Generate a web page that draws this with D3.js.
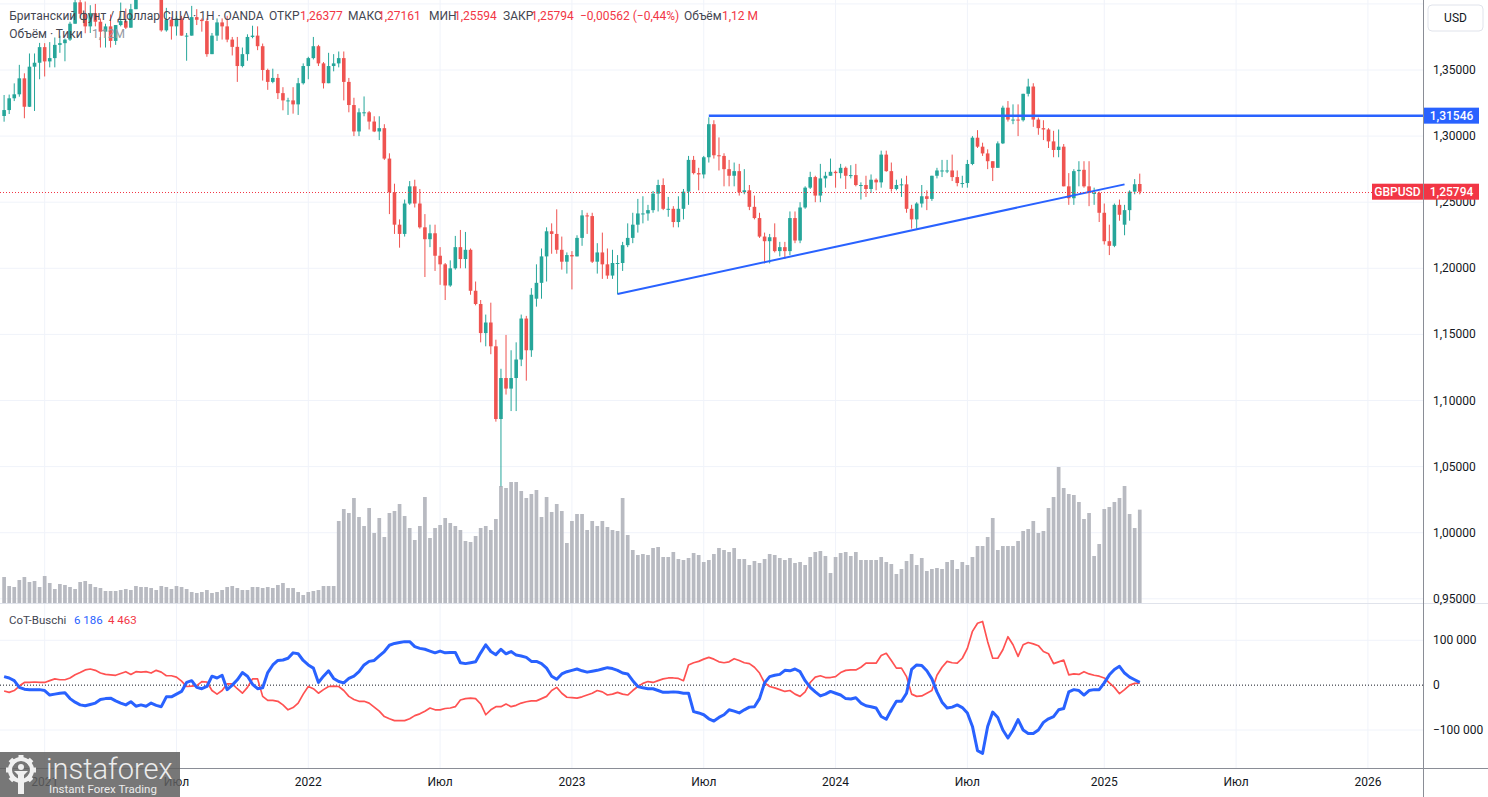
<!DOCTYPE html>
<html><head><meta charset="utf-8">
<script src="https://cdn.jsdelivr.net/npm/d3@7"></script>
<style>
html,body{margin:0;padding:0;background:#fff;overflow:hidden}
svg{display:block;font-family:Roboto,"Noto Sans",sans-serif}
</style></head><body>
<svg id="c" width="1488" height="797"></svg>
<script>
// ---------------- DATA ----------------
const firstWeek = "2020-11-09"; // weekly bars, one per Monday
const openP = [1.3152,1.3197,1.3286,1.3316,1.3437,1.3222,1.3525,1.3555,1.3673,1.3565,
1.3590,1.3690,1.3703,1.3730,1.3850,1.4012,1.3925,1.3830,1.3930,1.3865,
1.3790,1.3830,1.3720,1.3840,1.3870,1.3820,1.3960,1.4100,1.4155,1.4200,
1.4180,1.4110,1.3800,1.3880,1.3830,1.3890,1.3760,1.3760,1.3900,1.3880,
1.3870,1.3620,1.3760,1.3860,1.3830,1.3730,1.3675,1.3530,1.3620,1.3750,
1.3760,1.3680,1.3500,1.3410,1.3440,1.3325,1.3270,1.3270,1.3240,1.3400,
1.3530,1.3590,1.3680,1.3550,1.3400,1.3530,1.3550,1.3590,1.3410,1.3235,
1.3035,1.3180,1.3180,1.3110,1.3035,1.3060,1.2830,1.2575,1.2330,1.2260,
1.2490,1.2620,1.2490,1.2310,1.2220,1.2265,1.2095,1.2030,1.1870,1.2000,
1.2160,1.2070,1.2140,1.1830,1.1730,1.1510,1.1590,1.1410,1.0860,1.1170,
1.1090,1.1170,1.1310,1.1620,1.1380,1.1770,1.1890,1.2090,1.2280,1.2260,
1.2140,1.2050,1.2100,1.2090,1.2230,1.2400,1.2395,1.2050,1.2120,1.2030,
1.1945,1.2040,1.2040,1.2175,1.2230,1.2330,1.2415,1.2415,1.2440,1.2565,
1.2630,1.2450,1.2450,1.2350,1.2450,1.2580,1.2820,1.2720,1.2710,1.2840,
1.3090,1.2855,1.2850,1.2750,1.2700,1.2735,1.2575,1.2590,1.2465,1.2380,
1.2240,1.2205,1.2235,1.2130,1.2160,1.2130,1.2380,1.2210,1.2460,1.2610,
1.2690,1.2550,1.2680,1.2700,1.2730,1.2720,1.2760,1.2700,1.2705,1.2630,
1.2630,1.2600,1.2670,1.2650,1.2860,1.2735,1.2600,1.2630,1.2635,1.2450,
1.2370,1.2490,1.2545,1.2525,1.2700,1.2740,1.2740,1.2740,1.2690,1.2645,
1.2645,1.2789,1.2988,1.2920,1.2869,1.2810,1.2760,1.2945,1.3215,1.3125,
1.3125,1.3120,1.3320,1.3375,1.3125,1.3060,1.3050,1.2960,1.2895,1.2920,
1.2620,1.2530,1.2735,1.2745,1.2620,1.2570,1.2570,1.2420,1.2205,1.2170,
1.2480,1.2330,1.2440,1.2580,1.26377];
const highP = [1.3311,1.3314,1.3399,1.3539,1.3475,1.3625,1.3625,1.3705,1.3703,1.3711,
1.3746,1.3759,1.3738,1.3865,1.4035,1.4240,1.4018,1.3990,1.4000,1.3890,
1.3850,1.3920,1.3840,1.4010,1.3965,1.4000,1.4165,1.4234,1.4220,1.4250,
1.4200,1.4170,1.3970,1.3900,1.3910,1.3910,1.3780,1.3985,1.3960,1.3890,
1.3890,1.3780,1.3890,1.3890,1.3910,1.3750,1.3750,1.3670,1.3770,1.3835,
1.3830,1.3700,1.3510,1.3510,1.3470,1.3370,1.3290,1.3370,1.3440,1.3550,
1.3600,1.3750,1.3690,1.3560,1.3630,1.3620,1.3640,1.3640,1.3440,1.3290,
1.3210,1.3300,1.3190,1.3150,1.3150,1.3090,1.2870,1.2640,1.2370,1.2520,
1.2660,1.2670,1.2600,1.2410,1.2330,1.2330,1.2160,1.2040,1.2060,1.2245,
1.2290,1.2275,1.2150,1.1900,1.1760,1.1650,1.1740,1.1460,1.1240,1.1496,
1.1380,1.1440,1.1650,1.1640,1.1850,1.2030,1.2150,1.2310,1.2340,1.2446,
1.2240,1.2120,1.2130,1.2250,1.2440,1.2420,1.2420,1.2190,1.2270,1.2150,
1.2140,1.2100,1.2200,1.2340,1.2420,1.2525,1.2545,1.2480,1.2585,1.2670,
1.2680,1.2540,1.2470,1.2545,1.2600,1.2850,1.2850,1.2760,1.2850,1.3142,
1.3120,1.2990,1.2870,1.2820,1.2800,1.2790,1.2750,1.2630,1.2550,1.2420,
1.2270,1.2260,1.2340,1.2200,1.2200,1.2430,1.2430,1.2500,1.2620,1.2730,
1.2700,1.2790,1.2730,1.2830,1.2740,1.2790,1.2770,1.2780,1.2790,1.2650,
1.2700,1.2710,1.2680,1.2890,1.2890,1.2800,1.2670,1.2680,1.2700,1.2480,
1.2500,1.2630,1.2590,1.2700,1.2760,1.2820,1.2820,1.2860,1.2740,1.2700,
1.2820,1.3000,1.3045,1.2950,1.2900,1.2810,1.2960,1.3230,1.3265,1.3240,
1.3240,1.3320,1.3434,1.3400,1.3140,1.3120,1.3060,1.3040,1.3050,1.2940,
1.2720,1.2750,1.2810,1.2810,1.2810,1.2610,1.2580,1.2490,1.2330,1.2490,
1.2520,1.2480,1.2590,1.2675,1.27161];
const lowP = [1.3109,1.3167,1.3265,1.3298,1.3135,1.3220,1.3190,1.3430,1.3451,1.3520,
1.3520,1.3630,1.3566,1.3720,1.3850,1.3890,1.3778,1.3780,1.3830,1.3670,
1.3670,1.3670,1.3690,1.3830,1.3810,1.3820,1.3960,1.4080,1.4100,1.4080,
1.4080,1.3790,1.3790,1.3730,1.3760,1.3760,1.3570,1.3760,1.3840,1.3790,
1.3600,1.3620,1.3720,1.3730,1.3710,1.3610,1.3410,1.3520,1.3570,1.3740,
1.3650,1.3420,1.3350,1.3400,1.3280,1.3195,1.3160,1.3170,1.3160,1.3390,
1.3430,1.3580,1.3530,1.3360,1.3400,1.3490,1.3520,1.3270,1.3180,1.3000,
1.3000,1.3150,1.3050,1.3030,1.2970,1.2820,1.2410,1.2260,1.2156,1.2240,
1.2480,1.2460,1.2300,1.1934,1.2160,1.1980,1.1875,1.1760,1.1860,1.1990,
1.2000,1.2000,1.1800,1.1720,1.1440,1.1410,1.1350,1.0840,1.0350,1.1045,
1.0920,1.0920,1.1260,1.1150,1.1330,1.1710,1.1770,1.1900,1.2110,1.2110,
1.1990,1.1960,1.1840,1.2090,1.2170,1.2260,1.2040,1.1960,1.1920,1.1920,
1.1920,1.1803,1.1980,1.2160,1.2190,1.2270,1.2340,1.2360,1.2420,1.2430,
1.2440,1.2390,1.2310,1.2310,1.2370,1.2480,1.2710,1.2590,1.2680,1.2800,
1.2830,1.2740,1.2620,1.2620,1.2620,1.2550,1.2560,1.2440,1.2370,1.2230,
1.2037,1.2037,1.2120,1.2090,1.2070,1.2100,1.2190,1.2190,1.2450,1.2600,
1.2500,1.2500,1.2610,1.2700,1.2610,1.2680,1.2600,1.2680,1.2620,1.2520,
1.2540,1.2570,1.2590,1.2610,1.2730,1.2580,1.2590,1.2540,1.2420,1.2300,
1.2300,1.2460,1.2440,1.2510,1.2680,1.2690,1.2720,1.2660,1.2620,1.2610,
1.2610,1.2780,1.2910,1.2850,1.2750,1.2660,1.2760,1.2940,1.3110,1.3090,
1.3000,1.3110,1.3300,1.3070,1.3010,1.2970,1.2910,1.2840,1.2840,1.2620,
1.2480,1.2480,1.2620,1.2610,1.2470,1.2480,1.2350,1.2180,1.2100,1.2160,
1.2360,1.2250,1.2360,1.2560,1.25594];
const closeP = [1.3197,1.3286,1.3316,1.3437,1.3222,1.3525,1.3555,1.3673,1.3565,1.3590,
1.3690,1.3703,1.3730,1.3850,1.4012,1.3925,1.3830,1.3930,1.3865,1.3790,
1.3830,1.3720,1.3840,1.3870,1.3820,1.3960,1.4100,1.4155,1.4200,1.4180,
1.4110,1.3800,1.3880,1.3830,1.3890,1.3760,1.3760,1.3900,1.3880,1.3870,
1.3620,1.3760,1.3860,1.3830,1.3730,1.3675,1.3530,1.3620,1.3750,1.3760,
1.3680,1.3500,1.3410,1.3440,1.3325,1.3270,1.3270,1.3240,1.3400,1.3530,
1.3590,1.3680,1.3550,1.3400,1.3530,1.3550,1.3590,1.3410,1.3235,1.3035,
1.3180,1.3180,1.3110,1.3035,1.3060,1.2830,1.2575,1.2330,1.2260,1.2490,
1.2620,1.2490,1.2310,1.2220,1.2265,1.2095,1.2030,1.1870,1.2000,1.2160,
1.2070,1.2140,1.1830,1.1730,1.1510,1.1590,1.1410,1.0860,1.1170,1.1090,
1.1170,1.1310,1.1620,1.1380,1.1800,1.1890,1.2090,1.2280,1.2260,1.2140,
1.2050,1.2100,1.2090,1.2230,1.2400,1.2395,1.2050,1.2120,1.2030,1.1945,
1.2040,1.2040,1.2175,1.2230,1.2330,1.2415,1.2415,1.2440,1.2565,1.2630,
1.2450,1.2450,1.2350,1.2450,1.2580,1.2820,1.2720,1.2710,1.2840,1.3090,
1.2855,1.2850,1.2750,1.2700,1.2735,1.2575,1.2590,1.2465,1.2380,1.2240,
1.2205,1.2235,1.2130,1.2160,1.2130,1.2380,1.2210,1.2460,1.2610,1.2690,
1.2550,1.2680,1.2700,1.2730,1.2720,1.2760,1.2700,1.2705,1.2630,1.2630,
1.2600,1.2670,1.2650,1.2860,1.2735,1.2600,1.2630,1.2635,1.2450,1.2370,
1.2490,1.2545,1.2525,1.2700,1.2740,1.2740,1.2740,1.2690,1.2645,1.2645,
1.2789,1.2988,1.2920,1.2869,1.2810,1.2760,1.2945,1.3215,1.3125,1.3125,
1.3120,1.3320,1.3375,1.3125,1.3060,1.3050,1.2960,1.2895,1.2920,1.2620,
1.2530,1.2735,1.2745,1.2620,1.2570,1.2570,1.2420,1.2205,1.2170,1.2480,
1.2405,1.2440,1.2580,1.26356,1.25794];
// volume, thousands of ticks
const volumeK = [312,204,192,276,312,252,264,192,324,240,
168,228,216,192,168,252,264,228,192,180,
144,144,144,156,168,156,204,192,192,180,
156,204,192,168,204,192,168,132,120,132,
156,120,132,156,192,204,180,156,156,192,
192,180,192,180,216,240,180,180,132,96,
132,144,156,204,204,204,984,1128,1080,1260,
1032,924,1140,840,1020,792,1080,1104,1188,1044,
900,756,924,1272,780,900,936,1020,960,924,
876,744,732,804,900,924,876,1008,1404,1380,
1452,1452,1344,1260,1308,1356,1032,1272,1092,1188,
1104,720,984,1068,1068,876,984,924,984,912,
876,864,1260,816,636,576,588,576,660,672,
552,552,612,528,516,540,600,576,492,516,
588,660,636,612,660,528,528,456,504,480,
528,588,576,540,516,540,480,492,456,552,
612,624,564,360,552,600,612,564,612,516,
516,516,516,552,492,468,348,408,504,588,
456,540,384,408,420,408,492,516,408,492,
456,552,684,684,792,1020,636,684,684,684,
744,864,888,984,840,864,1140,1272,1632,1380,
1308,1296,1212,1008,1080,564,708,1128,1152,1212,
1260,1404,1068,900,1120];
// CoT net positions, thousands of contracts
const cotBlue = [19,16,10,-5,-9,-10,-10,-10,-12,-22,
-20,-18,-17,-30,-38,-44,-46,-43,-40,-32,
-30,-29,-35,-40,-44,-37,-47,-44,-47,-40,
-45,-48,-26,-26,-20,-14,6,10,-5,-8,
-3,20,16,22,-10,0,12,28,20,2,
-8,-6,28,45,55,56,60,72,70,55,
45,38,6,20,32,15,8,5,15,20,
30,45,53,55,65,75,89,93,95,97,
97,86,82,80,76,72,76,72,73,73,
50,48,50,52,72,90,75,68,80,70,
75,67,65,62,53,53,48,38,20,13,
25,30,33,36,32,29,31,33,36,39,
37,33,27,25,10,-3,-6,-8,-8,-12,
-16,-16,-15,-16,-18,-18,-59,-62,-66,-75,
-80,-72,-66,-55,-58,-62,-55,-49,-48,-30,
5,19,22,24,33,32,36,30,10,-5,
-15,-24,-20,-14,-18,-22,-30,-31,-28,-40,
-46,-48,-51,-70,-76,-55,-36,-36,-18,35,
45,44,32,14,-15,-38,-51,-49,-44,-50,
-62,-92,-146,-152,-92,-60,-72,-100,-118,-100,
-77,-100,-108,-108,-100,-83,-75,-70,-55,-52,
-15,-10,-12,-22,-12,-10,-10,5,23,35,
42,27,18,12,6.186];
const cotRed = [-13,-16,-12,-2,6,6,7,6,6,10,
14,12,12,16,23,28,34,36,33,27,
24,23,22,26,30,24,30,29,30,27,
33,29,21,21,18,9,-3,-2,-1,8,
7,-12,-20,-12,3,3,-8,-18,-5,14,
14,-25,-34,-34,-36,-44,-55,-50,-40,-20,
-3,-8,-18,-10,-3,-2,-3,-12,-25,-32,
-36,-36,-40,-49,-58,-70,-75,-79,-79,-79,
-75,-68,-64,-58,-51,-55,-55,-52,-51,-48,
-33,-30,-29,-30,-42,-66,-55,-48,-48,-42,
-48,-45,-40,-37,-35,-35,-30,-25,-12,-5,
-18,-27,-28,-29,-26,-22,-18,-12,-15,-22,
-20,-16,-20,-22,-12,-3,4,8,6,10,
14,16,16,15,10,45,50,53,58,62,
58,52,50,52,59,55,50,48,40,27,
5,-3,-6,-10,-14,-12,-20,-25,-15,6,
18,21,17,17,19,28,33,34,34,40,
49,49,49,66,71,55,38,38,19,-20,
-25,-24,-18,-12,22,40,53,50,49,60,
82,120,138,142,97,60,60,79,108,90,
64,90,95,92,88,75,70,48,52,56,
23,25,24,30,25,22,20,16,5,-5,
-19,-10,0,4,4.463];
const priceTicks = [1.40,1.35,1.30,1.25,1.20,1.15,1.10,1.05,1.00,0.95];
const cotTicks = [100000,0,-100000];
const timeTickDates = ["2021-01-04","2021-07-05","2022-01-03","2022-07-04","2023-01-02","2023-07-03","2024-01-01","2024-07-01","2025-01-06","2025-07-07","2026-01-05"];
const timeTickLabels = ["2021","Июл","2022","Июл","2023","Июл","2024","Июл","2025","Июл","2026"];
const resistance = {from:"2023-07-10", price:1.31546};
const trendPoints = [{date:"2023-03-06", price:1.1806},{date:"2025-02-03", price:1.2635}];
const symbol = "GBPUSD";

// ---------------- SCALES ----------------
const parse = d3.utcParse("%Y-%m-%d");
const w0 = parse(firstWeek);
const bars = closeP.map((c,i)=>({date:d3.utcDay.offset(w0,7*i),o:openP[i],h:highP[i],l:lowP[i],c:c,v:volumeK[i],cb:cotBlue[i],cr:cotRed[i]}));
const AXX = 1423.5, P1B = 603, P2T = 604, P2B = 768;
const x = d3.scaleUtc().domain([parse("2022-01-03"), parse("2026-01-05")]).range([308.3, 1367.9]);
const y = d3.scaleLinear().domain([0.95,1.35]).range([598.8,70]);
const yV = d3.scaleLinear().domain([0,1632]).range([603,467]);
const yC = d3.scaleLinear().domain([-100000,100000]).range([730,640.3]);
const fmtP = v => d3.format(".5f")(v).replace(".", ",");
const fmtSp = v => d3.format(",")(Math.round(v)).replace(/,/g," ");

const UP="#26a69a", DN="#ef5350", BLUE="#2962ff", RED="#f23645", GRID="#f0f3fa", TXT="#131722", LBL="#434651";
const svg = d3.select("#c");
const defs = svg.append("defs");
defs.append("clipPath").attr("id","cp1").append("rect").attr("x",0).attr("y",0).attr("width",AXX).attr("height",P1B);
defs.append("clipPath").attr("id","cp2").append("rect").attr("x",0).attr("y",P2T).attr("width",AXX).attr("height",P2B-P2T);

svg.append("rect").attr("width",1488).attr("height",797).attr("fill","#fff");

// grid
const g = svg.append("g");
timeTickDates.forEach(d=>{
  const xx = x(parse(d));
  if (xx < AXX) g.append("line").attr("x1",xx).attr("x2",xx).attr("y1",0).attr("y2",P2B).attr("stroke",GRID);
});
priceTicks.forEach(p=>g.append("line").attr("x1",0).attr("x2",AXX).attr("y1",y(p)).attr("y2",y(p)).attr("stroke",GRID));
cotTicks.filter(v=>v!==0).forEach(v=>g.append("line").attr("x1",0).attr("x2",AXX).attr("y1",yC(v)).attr("y2",yC(v)).attr("stroke",GRID));

// price pane
const p1 = svg.append("g").attr("clip-path","url(#cp1)");
p1.selectAll("rect.vol").data(bars).join("rect").attr("class","vol")
  .attr("x",d=>x(d.date)-1.85).attr("width",3.7)
  .attr("y",d=>yV(d.v)).attr("height",d=>yV(0)-yV(d.v)).attr("fill","#b8bac1");
p1.selectAll("line.wick").data(bars).join("line").attr("class","wick")
  .attr("x1",d=>x(d.date)).attr("x2",d=>x(d.date)).attr("y1",d=>y(d.h)).attr("y2",d=>y(d.l))
  .attr("stroke",d=>d.c>=d.o?UP:DN).attr("stroke-width",1);
p1.selectAll("rect.body").data(bars).join("rect").attr("class","body")
  .attr("x",d=>x(d.date)-1.8).attr("width",3.6)
  .attr("y",d=>y(Math.max(d.o,d.c))).attr("height",d=>Math.max(1,Math.abs(y(d.o)-y(d.c))))
  .attr("fill",d=>d.c>=d.o?UP:DN);

// drawn lines
p1.append("line").attr("x1",x(parse(resistance.from))).attr("x2",AXX).attr("y1",y(resistance.price)).attr("y2",y(resistance.price))
  .attr("stroke",BLUE).attr("stroke-width",2.5);
p1.append("line").attr("x1",x(parse(trendPoints[0].date))).attr("y1",y(trendPoints[0].price))
  .attr("x2",x(parse(trendPoints[1].date))).attr("y2",y(trendPoints[1].price))
  .attr("stroke",BLUE).attr("stroke-width",2);
const last = bars[bars.length-1];
p1.append("line").attr("x1",0).attr("x2",1372).attr("y1",Math.round(y(last.c))+0.5).attr("y2",Math.round(y(last.c))+0.5)
  .attr("stroke",RED).attr("stroke-width",1).attr("stroke-dasharray","1,2");

// header legend
const prev = bars[bars.length-2];
const chg = last.c - prev.c;
const hdr = svg.append("g").attr("font-size",12);
const volTxt = d3.format(".2f")(last.v/1000).replace(".",",");
const hdrItems = [
 ["Британский фунт / Доллар США · 1Н · OANDA",9.3,LBL],
 ["ОТКР",269,LBL],[fmtP(last.o),300,RED],
 ["МАКС",348,LBL],[fmtP(last.h),378,RED],
 ["МИН",429,LBL],[fmtP(last.l),454,RED],
 ["ЗАКР",503,LBL],[fmtP(last.c),531,RED],
 [(chg<0?"−":"+")+fmtP(Math.abs(chg))+" ("+(chg<0?"−":"+")+d3.format(".2f")(Math.abs(chg/prev.c*100)).replace(".",",")+"%)",580,RED],
 ["Объём",684,LBL],[volTxt+" M",722,RED]
];
hdrItems.forEach(([t,xx,c])=>hdr.append("text").attr("x",xx).attr("y",20).attr("fill",c).text(t));
hdr.append("text").attr("x",9.3).attr("y",38).attr("fill",LBL).text("Объём · Тики");
hdr.append("text").attr("x",92).attr("y",38).attr("fill","#9598a1").text(volTxt+"M");

// CoT pane
const p2 = svg.append("g").attr("clip-path","url(#cp2)");
p2.append("line").attr("x1",0).attr("x2",AXX).attr("y1",yC(0)).attr("y2",yC(0)).attr("stroke","#131722").attr("stroke-dasharray","1,2");
const lineB = d3.line().x(d=>x(d.date)).y(d=>yC(d.cb*1000));
const lineR = d3.line().x(d=>x(d.date)).y(d=>yC(d.cr*1000));
p2.append("path").attr("d",lineR(bars)).attr("fill","none").attr("stroke","#ff5252").attr("stroke-width",1.7).attr("stroke-linejoin","round");
p2.append("path").attr("d",lineB(bars)).attr("fill","none").attr("stroke",BLUE).attr("stroke-width",3).attr("stroke-linejoin","round");
const cl = svg.append("g").attr("font-size",11.5);
cl.append("text").attr("x",9).attr("y",624).attr("fill",LBL).text("CoT-Buschi");
cl.append("text").attr("x",74).attr("y",624).attr("fill",BLUE).text(fmtSp(last.cb*1000));
cl.append("text").attr("x",108).attr("y",624).attr("fill",RED).text(fmtSp(last.cr*1000));

// separators and axes
svg.append("line").attr("x1",0).attr("x2",1488).attr("y1",603.5).attr("y2",603.5).attr("stroke","#e0e3eb");
svg.append("line").attr("x1",0).attr("x2",1488).attr("y1",768.5).attr("y2",768.5).attr("stroke","#8a8d96");
svg.append("line").attr("x1",AXX).attr("x2",AXX).attr("y1",0).attr("y2",797).attr("stroke","#8a8d96");

const ax = svg.append("g").attr("font-size",12).attr("fill",TXT);
priceTicks.filter(p=>y(p)>40).forEach(p=>ax.append("text").attr("x",1433).attr("y",y(p)+4).text(fmtP(p)));
cotTicks.forEach(v=>ax.append("text").attr("x",1433).attr("y",yC(v)+4).text(v===0?"0":(v<0?"−":"")+fmtSp(Math.abs(v))));
timeTickDates.forEach((d,i)=>ax.append("text").attr("x",x(parse(d))).attr("y",786).attr("text-anchor","middle").text(timeTickLabels[i]));

// price badges
function badge(xx,w,yy,fill,txt){
  svg.append("rect").attr("x",xx).attr("y",yy-8).attr("width",w).attr("height",16).attr("fill",fill);
  svg.append("text").attr("x",xx+w/2).attr("y",yy+4.3).attr("text-anchor","middle").attr("font-size",12).attr("font-weight",500).attr("fill","#fff").text(txt);
}
badge(1424,55,y(resistance.price),BLUE,fmtP(resistance.price));
badge(1372,51,y(last.c),RED,symbol);
badge(1424,55,y(last.c),RED,fmtP(last.c));

// USD box
svg.append("rect").attr("x",1428).attr("y",5).attr("width",55).attr("height",26).attr("rx",4).attr("fill","#fff").attr("stroke","#e0e3eb");
svg.append("text").attr("x",1455.5).attr("y",22).attr("text-anchor","middle").attr("font-size",12).attr("fill",TXT).text("USD");

// logo watermark
const lg = svg.append("g");
lg.append("rect").attr("x",0).attr("y",752).attr("width",180).attr("height",45).attr("fill","#5f5f5f").attr("opacity",0.85);
const gear = lg.append("g").attr("transform","translate(21,770)").attr("fill","#f0f0f0");
for(let k=0;k<8;k++) gear.append("rect").attr("x",-2.5).attr("y",-15).attr("width",5).attr("height",6).attr("transform",`rotate(${k*45})`);
gear.append("circle").attr("r",11).attr("fill","none").attr("stroke","#f0f0f0").attr("stroke-width",4);
gear.append("circle").attr("cx",0).attr("cy",-3).attr("r",3);
gear.append("path").attr("d","M-7,1 L7,1 L3,5 L3,24 L-3,24 L-3,5 Z");
lg.append("text").attr("x",46).attr("y",779).attr("font-size",29).attr("font-weight",300).attr("fill","#ececec").text("instaforex");
lg.append("text").attr("x",49).attr("y",793).attr("font-size",11.5).attr("fill","#ececec").text("Instant Forex Trading");
</script>
</body></html>
